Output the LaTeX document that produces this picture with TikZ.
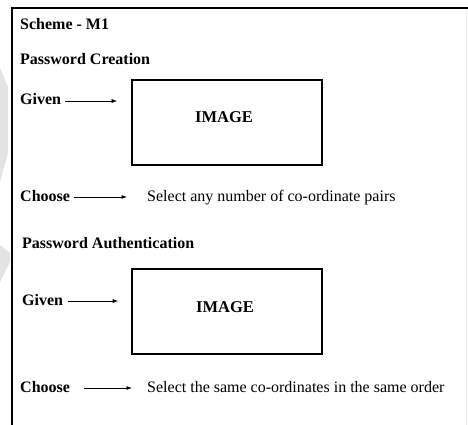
\documentclass[tikz,border=0pt]{standalone}
\usepackage{fontspec}
\setmainfont{Liberation Serif}
\usetikzlibrary{arrows.meta,calc}
\begin{document}
\begin{tikzpicture}[x=1pt,y=-1pt,
  lbl/.style={inner sep=0pt,anchor=base west,font=\fontsize{16}{19}\selectfont\bfseries},
  txt/.style={inner sep=0pt,anchor=base west,font=\fontsize{16}{19}\selectfont},
  imgbox/.style={draw,line width=1.6pt,minimum width=190pt,minimum height=85pt,inner sep=0pt},
  imglbl/.style={inner sep=0pt,anchor=base,font=\fontsize{16.5}{20}\selectfont\bfseries},
  arr/.style={line width=0.8pt,-{Latex[length=5.5pt,width=4pt]}},
  framestroke/.style={line width=1.6pt},
  wm/.style={fill=black!11,draw=none}
]
\useasboundingbox (0,0) rectangle (468,425);

% faint background shapes at the left edge
\fill[wm] (0,68) -- (8,87) -- (8,153) -- (0,182) -- cycle;
\fill[wm] (0,245) -- (10,253) -- (10,262) -- (0,282) -- cycle;

% page frame
\draw[framestroke] (12,425) -- (12,8) -- (468,8);
\draw[black!7,line width=1pt] (466,10) -- (466,425);

% creation part
\node[lbl] (title) at (20,30) {Scheme - M1};
\node[lbl] (create) at (20,65) {Password Creation};
\node[lbl] (given1) at (20,105) {Given};
\node[imgbox] (img1) at (227,122.5) {};
\node[imglbl] (imgtxt1) at (224,123) {IMAGE};
\node[lbl] (choose1) at (20,201) {Choose};
\node[txt] (select1) at (147,201) {Select any number of co-ordinate pairs};

% authentication part
\node[lbl] (auth) at (22,248) {Password Authentication};
\node[lbl] (given2) at (22,305) {Given};
\node[imgbox] (img2) at (227,311.5) {};
\node[imglbl] (imgtxt2) at (225,312) {IMAGE};
\node[lbl] (choose2) at (20,392) {Choose};
\node[txt] (select2) at (147,392) {Select the same co-ordinates in the same order};

% arrows
\draw[arr] ($(given1.base east)+(4,-4)$) -- ($(img1.west |- given1.base)+(-14,-4)$);
\draw[arr] ($(choose1.base east)+(4,-4)$) -- ($(select1.base west)+(-20,-4)$);
\draw[arr] ($(given2.base east)+(5,-4)$) -- ($(img2.west |- given2.base)+(-13,-4)$);
\draw[arr] ($(choose2.base east)+(14,-4)$) -- ($(select2.base west)+(-15,-4)$);
\end{tikzpicture}
\end{document}
